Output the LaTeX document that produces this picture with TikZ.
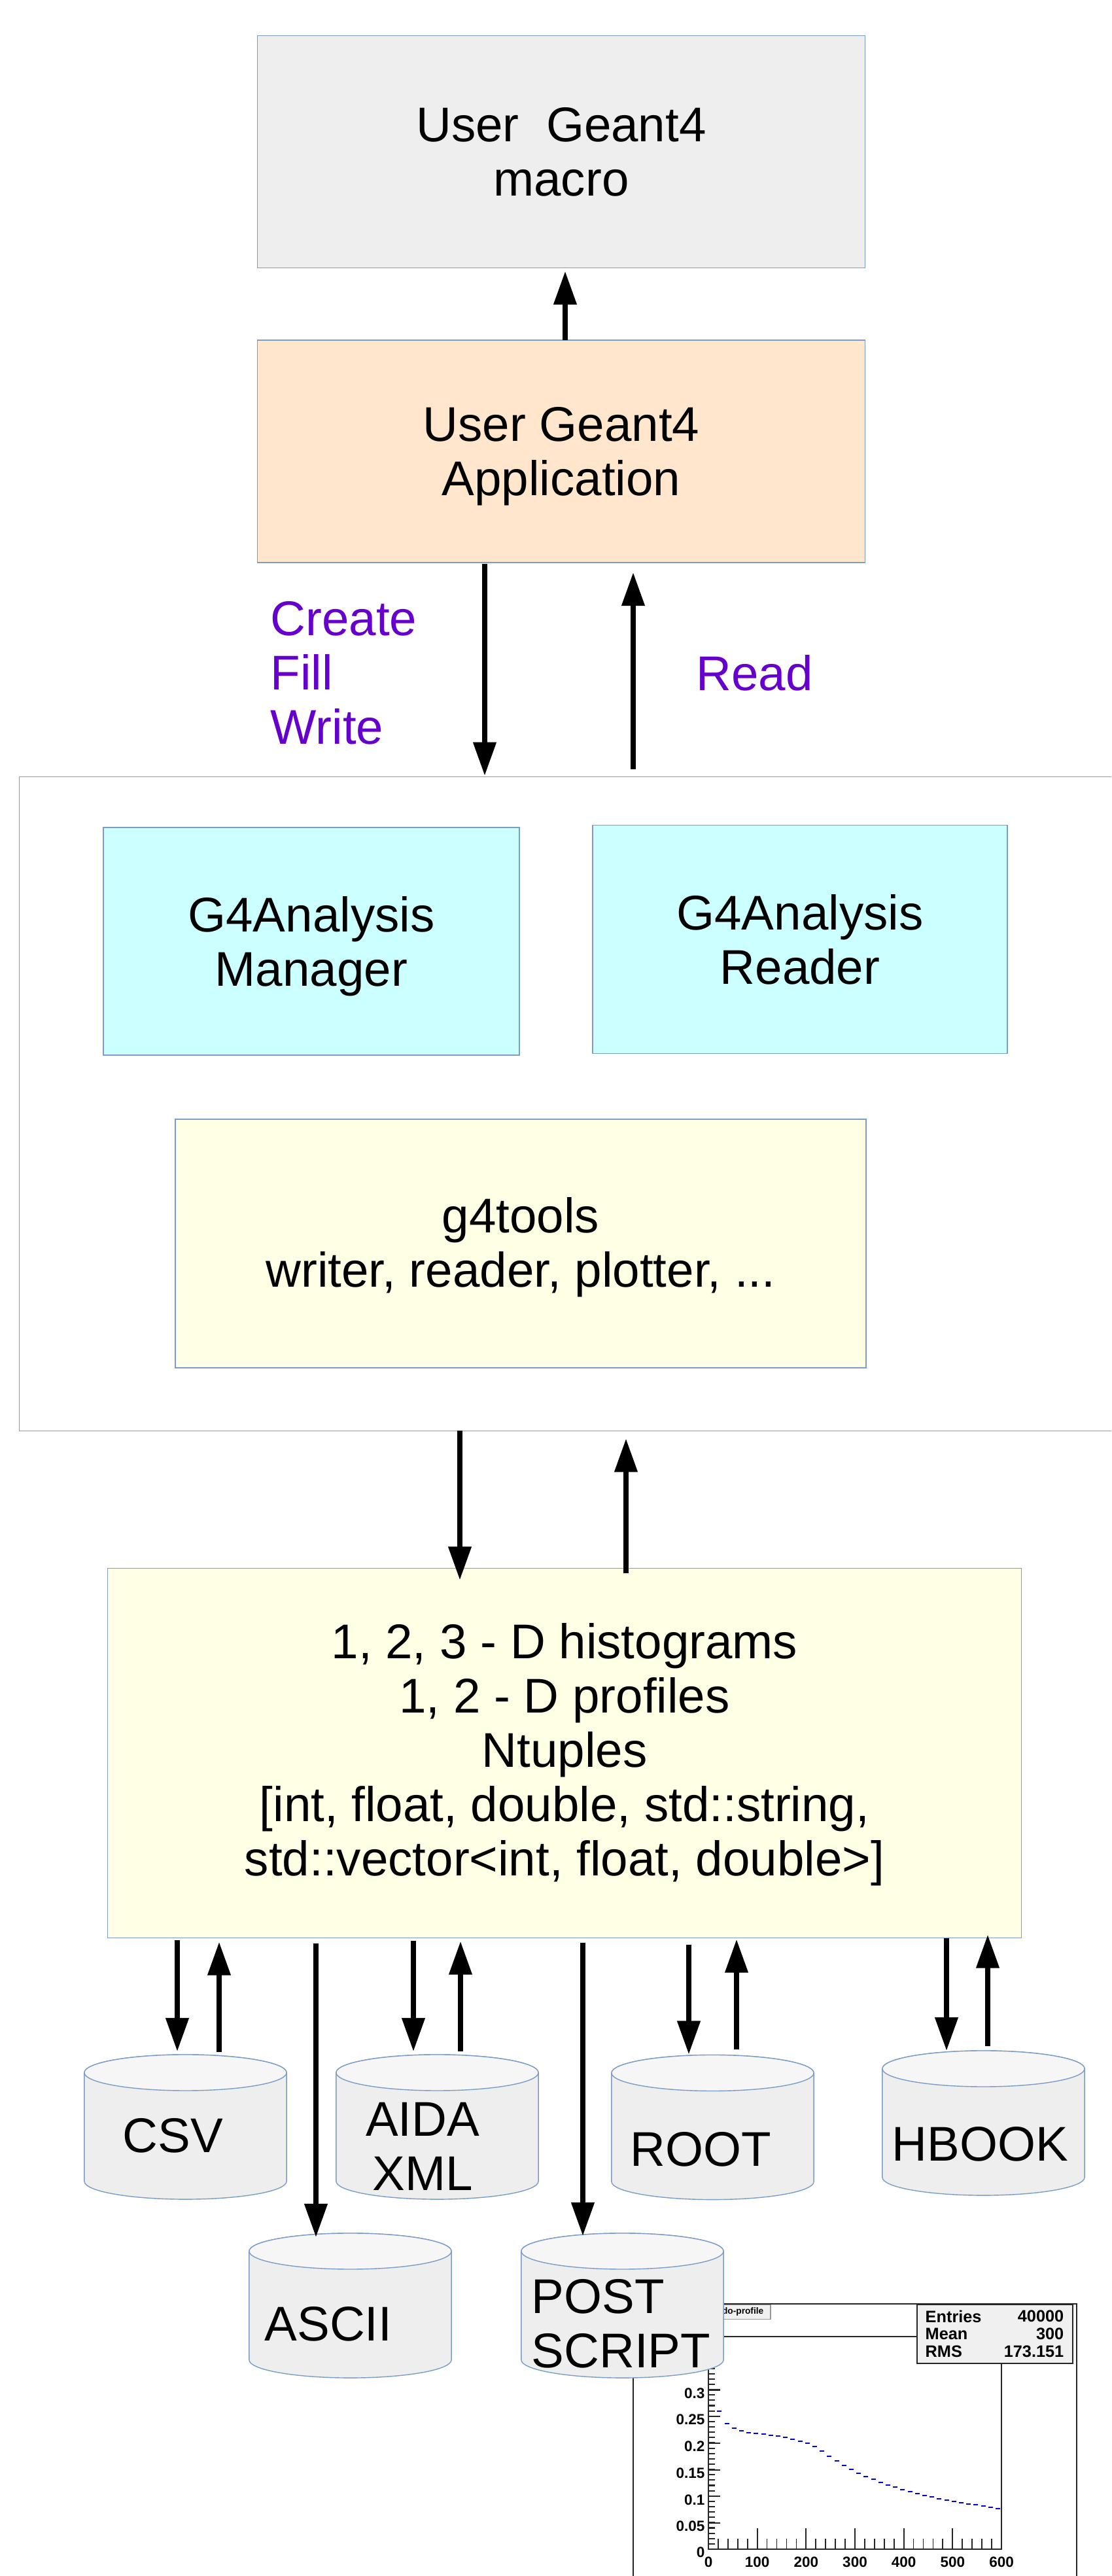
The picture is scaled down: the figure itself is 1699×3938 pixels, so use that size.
\documentclass[tikz,border=0pt]{standalone}
\usepackage{fontspec}
\setmainfont{Liberation Sans}
\usetikzlibrary{arrows.meta}
\definecolor{edgeblue}{HTML}{7C9CC8}
\definecolor{macrogray}{HTML}{EEEEEE}
\definecolor{apporange}{HTML}{FFE6CC}
\definecolor{mgrcyan}{HTML}{CCFFFF}
\definecolor{toolyellow}{HTML}{FFFFE5}
\definecolor{callpurple}{HTML}{6600CC}
\tikzset{
  bigtext/.style={font=\fontsize{21.2}{23.6}\selectfont,align=center,text depth=0pt},
  box/.style={draw=edgeblue,line width=.4pt,rectangle,inner sep=0pt,outer sep=0pt,bigtext},
  store/.style={rectangle,minimum width=3.09cm,minimum height=2.21cm,inner sep=0pt,outer sep=0pt},
  storeline/.style={draw=edgeblue,line width=.4pt},
  flow/.style={line width=2.1pt,-{Triangle[length=.51cm,width=.34cm]}},
  ticklbl/.style={font=\bfseries\fontsize{6.4}{7}\selectfont,inner sep=0pt},
  statlbl/.style={font=\bfseries\fontsize{7.2}{8}\selectfont,inner sep=0pt}
}
\begin{document}
\begin{tikzpicture}[x=.01cm,y=-.01cm]
  \clip (0,0) rectangle (1699,3938);
  \fill[white] (0,0) rectangle (1699,3938);

  \node[box,fill=macrogray,minimum width=9.28cm,minimum height=3.55cm] (macro) at (858,232) {User\ \ Geant4\\macro};
  \node[box,fill=apporange,minimum width=9.28cm,minimum height=3.40cm] (app) at (858,690) {User Geant4\\Application};
  \node[bigtext,align=left,anchor=west,inner sep=0pt,text=callpurple] (calls) at (413,1028) {Create\\Fill\\Write};
  \node[bigtext,anchor=west,inner sep=0pt,text=callpurple] (readlbl) at (1064,1028) {Read};

  \node[box,fill=white,minimum width=17.2cm,minimum height=9.99cm] (frame) at (890,1687.5) {};
  \node[box,fill=mgrcyan,minimum width=6.36cm,minimum height=3.48cm] (mgr) at (476,1439) {G4Analysis\\Manager};
  \node[box,fill=mgrcyan,minimum width=6.34cm,minimum height=3.49cm] (reader) at (1223,1436) {G4Analysis\\Reader};
  \node[box,fill=toolyellow,text depth=1pt,minimum width=10.55cm,minimum height=3.80cm] (tools) at (796,1901) {g4tools\\writer, reader, plotter, ...};
  \node[box,fill=toolyellow,text depth=3pt,minimum width=13.96cm,minimum height=5.65cm] (hist) at (863,2680)
    {1, 2, 3 - D histograms\\1, 2 - D profiles\\Ntuples\\{[}int, float, double, std::string,\\std::vector<int, float, double>{]}};

  \draw[black!85,line width=.7pt] (968,3522) -- (1646,3522) -- (1646,3960);
  \draw[black!85,line width=.7pt] (968,3522) -- (968,3960);
  \draw[black!85,line width=.7pt] (968,3572) -- (1402,3572);
  \draw[black!85,line width=.6pt] (1083,3572) rectangle (1531,3897);
  \filldraw[draw=black!40,fill=black!6,line width=.3pt] (1090,3523) rectangle (1178,3545);
  \node[anchor=east,font=\bfseries\fontsize{3.9}{5}\selectfont,inner sep=0pt] (ptitle) at (1168,3534) {do-profile};
  \foreach \k in {0,...,39}
    \draw[black!85,line width=.6pt] (1083,{3897-8.13*\k}) -- ++(10,0);
  \foreach \k/\lab in {0/0.05,1/0.1,2/0.15,3/0.2,4/0.25,5/0.3}{
    \draw[black!85,line width=.6pt] (1083,{3857-40.7*\k}) -- ++(18,0);
    \node[ticklbl,anchor=east] at (1078,{3862-40.7*\k}) {\lab};
  }
  \node[ticklbl,anchor=east] at (1078,3902) {0};
  \foreach \k in {1,...,29}
    \draw[black!85,line width=.5pt] ({1083+14.93*\k},3897) -- ++(0,-16);
  \foreach \k in {0,...,6}{
    \draw[black!85,line width=.5pt] ({1083+74.67*\k},3897) -- ++(0,-32);
    \node[ticklbl] at ({1083+74.67*\k},3917) {\pgfmathparse{int(100*\k)}\pgfmathresult};
  }
  \foreach \v [count=\i] in {618,676,696,707,716,719,724,728,733,739,746,755,766,781,801,824,846,866,885,902,917,931,944,956,967,978,987,996,1004,1012,1019,1025,1032,1037,1043,1047,1053,1060,1064}
    \draw[blue!85!black,line width=.6pt] ({1083+11.2*\i+2.1},{3480+\v/3}) -- ++(7,0);
  \filldraw[draw=black!85,fill=black!6,line width=.7pt] (1402,3523) rectangle (1640,3613);
  \foreach \n/\w/\y in {Entries/40000/3541,Mean/300/3568,RMS/173.151/3595}{
    \node[statlbl,anchor=west] at (1414,\y) {\n};
    \node[statlbl,anchor=east] at (1627,\y) {\w};
  }

  \node[store] (csv) at (283.5,3251.5) {};
  \node[store] (aida) at (668.5,3251.5) {};
  \node[store] (root) at (1089.5,3252) {};
  \node[store] (hbook) at (1503.5,3245.5) {};
  \node[store] (ascii) at (535.5,3524.5) {};
  \node[store] (post) at (951.5,3524.5) {};
  \foreach \s in {csv,aida,root,hbook,ascii,post}{
    \filldraw[storeline,fill=macrogray] ([yshift=-.275cm]\s.north west) -- ([yshift=.275cm]\s.south west)
      arc[start angle=180,end angle=360,x radius=1.545cm,y radius=.275cm]
      -- ([yshift=-.275cm]\s.north east)
      arc[start angle=0,end angle=180,x radius=1.545cm,y radius=.275cm];
    \filldraw[storeline,fill=macrogray!50!white] ([yshift=-.275cm]\s.north) ellipse[x radius=1.545cm,y radius=.275cm];
  }
  \node[bigtext,anchor=west,inner sep=0pt] (csvlbl) at (187,3264) {CSV};
  \node[bigtext,inner sep=0pt] (aidalbl) at (646,3281) {AIDA\\XML};
  \node[bigtext,anchor=west,inner sep=0pt] (rootlbl) at (963,3285) {ROOT};
  \node[bigtext,anchor=west,inner sep=0pt] (hbooklbl) at (1363,3277) {HBOOK};
  \node[bigtext,anchor=west,inner sep=0pt] (asciilbl) at (404,3552) {ASCII};
  \node[bigtext,align=left,anchor=west,inner sep=0pt] (postlbl) at (812,3552) {POST\\SCRIPT};

  \foreach \a/\b/\x/\s/\e in {app.north/macro.south/864/0/5,app.south/frame.north/741/2/2,frame.north/app.south/968/12/15,
    frame.south/hist.north/703/0/-18,hist.north/frame.south/957/-8/12,
    hist.south/csv.north/271/3/5,csv.north/hist.south/335/4/6,hist.south/ascii.north/483/8/-6,
    hist.south/aida.north/632/4/5,aida.north/hist.south/704/5/5,hist.south/post.north/891/7/-4,
    hist.south/root.north/1053/10/1,root.north/hist.south/1126/8/2,
    hist.south/hbook.north/1447/0/0,hbook.north/hist.south/1510/7/-5}
    \draw[flow,shorten <=\s*.2845pt,shorten >=\e*.2845pt] (\x,0 |- \a) -- (\x,0 |- \b);
\end{tikzpicture}
\end{document}
